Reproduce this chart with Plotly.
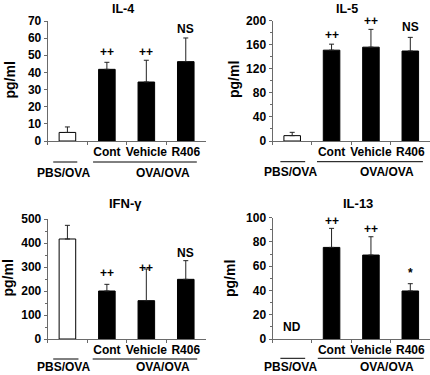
import plotly.graph_objects as go

W, H = 430, 375

# ---------------- data ----------------
categories = ["PBS/OVA", "Cont", "Vehicle", "R406"]
cat_labels = ["", "Cont", "Vehicle", "R406"]
group_labels = ["PBS/OVA", "OVA/OVA"]

il4_mean = [5.0, 41.8, 34.4, 46.3]
il4_err = [3.2, 4.1, 12.7, 13.8]
il4_sig = ["", "++", "++", "NS"]

il5_mean = [8.9, 151.0, 156.0, 149.6]
il5_err = [5.5, 10.0, 29.6, 22.7]
il5_sig = ["", "++", "++", "NS"]

ifn_mean = [416.7, 200.0, 159.7, 248.6]
ifn_err = [56.9, 27.8, 132.0, 77.8]
ifn_sig = ["", "++", "++", "NS"]

il13_mean = [None, 75.5, 69.2, 39.6]
il13_err = [None, 15.7, 15.1, 6.0]
il13_sig = ["", "++", "++", "*"]

titles = ["IL-4", "IL-5", "IFN-γ", "IL-13"]
y_title = "pg/ml"

# ---------------- layout helpers ----------------
def px_x(p):
    return p / W

def px_y(p):
    return 1 - p / H

FONT = "Liberation Sans, Arial, sans-serif"
AXIS_COLOR = "#6a6a6a"

panels = [
    dict(mean=il4_mean, err=il4_err, sig=il4_sig, shifts=[0, 9, 7, 7.5], title=titles[0],
         ymax=70, dtick=10, minor=None, xdom=(47.7, 205.5), ybot=141, ytop=21,
         title_xy=(123, 9), title_size=12.5, ylab_xy=(9.5, 80), line_y=162, group_y=172.5,
         pbs_line=(-0.36, 0.25), ova_line=(0.65, 3.28), pbs_x=-0.1, ova_x=2.41),
    dict(mean=il5_mean, err=il5_err, sig=il5_sig, shifts=[0, 8, 7, 9], title=titles[1],
         ymax=200, dtick=40, minor=20, xdom=(272.5, 430), ybot=141, ytop=20.7,
         title_xy=(346.7, 9), title_size=12.5, ylab_xy=(234, 80), line_y=161.7, group_y=171.5,
         pbs_line=(-0.3, 0.33), ova_line=(0.63, 3.32), pbs_x=-0.05, ova_x=2.42),
    dict(mean=ifn_mean, err=ifn_err, sig=ifn_sig, shifts=[0, 10, -1, 6], title=titles[2],
         ymax=500, dtick=100, minor=50, xdom=(47.7, 205.5), ybot=339, ytop=219,
         title_xy=(125, 203), title_size=13, ylab_xy=(7.5, 278), line_y=359, group_y=367,
         pbs_line=(-0.36, 0.28), ova_line=(0.64, 3.29), pbs_x=-0.1, ova_x=2.41),
    dict(mean=il13_mean, err=il13_err, sig=il13_sig, shifts=[0, 6, 6.5, 9], title=titles[3],
         ymax=100, dtick=20, minor=10, xdom=(272.5, 430), ybot=339, ytop=217.7,
         title_xy=(358, 203), title_size=13, ylab_xy=(230, 278), line_y=358.3, group_y=367,
         pbs_line=(-0.3, 0.33), ova_line=(0.65, 3.34), pbs_x=-0.05, ova_x=2.42),
]

fig = go.Figure()
annotations = []
shapes = []

for i, p in enumerate(panels):
    n = i + 1
    xa = "x" if n == 1 else f"x{n}"
    ya = "y" if n == 1 else f"y{n}"
    colors = ["white", "black", "black", "black"]
    errs = p["err"]
    fig.add_trace(go.Bar(
        x=categories, y=p["mean"], xaxis=xa, yaxis=ya,
        width=0.42,
        marker=dict(color=colors, line=dict(color="black", width=1)),
        error_y=dict(type="data", array=errs, arrayminus=[0] * len(errs), symmetric=False,
                     width=2.5, thickness=1, color="#222222"),
        showlegend=False, hoverinfo="skip",
    ))

    xkey = "xaxis" if n == 1 else f"xaxis{n}"
    ykey = "yaxis" if n == 1 else f"yaxis{n}"
    fig.update_layout(**{
        xkey: dict(
            domain=[px_x(p["xdom"][0]), px_x(p["xdom"][1])], anchor=ya, automargin=False,
            type="category", categoryorder="array", categoryarray=categories,
            range=[-0.5, 3.5], tickmode="array", tickvals=categories, ticktext=cat_labels,
            tickson="boundaries", ticks="outside", ticklen=3, tickcolor=AXIS_COLOR,
            showline=True, linecolor=AXIS_COLOR, linewidth=1, showgrid=False, zeroline=False,
            tickangle=0, tickfont=dict(family=FONT, size=12, color="black", weight="bold"),
            fixedrange=True,
        ),
        ykey: dict(
            domain=[px_y(p["ybot"]), px_y(p["ytop"])], anchor=xa, automargin=False,
            range=[0, p["ymax"]], tickmode="linear", tick0=0, dtick=p["dtick"],
            ticks="outside", ticklen=3, tickcolor=AXIS_COLOR,
            showline=True, linecolor=AXIS_COLOR, linewidth=1, showgrid=False, zeroline=False,
            tickfont=dict(family=FONT, size=12, color="black", weight="bold"),
            minor=(dict(dtick=p["minor"], ticks="outside", ticklen=2, tickcolor=AXIS_COLOR, showgrid=False)
                   if p["minor"] else None),
            fixedrange=True,
        ),
    })

    # significance labels
    for j, s in enumerate(p["sig"]):
        if s and p["mean"][j] is not None:
            annotations.append(dict(
                x=categories[j], y=p["mean"][j] + p["err"][j], xref=xa, yref=ya,
                text=s, showarrow=False, yanchor="bottom", yshift=p["shifts"][j] - 7.5,
                font=dict(family=FONT, size=12, color="black", weight="bold"),
            ))
    if p["mean"][0] is None:
        annotations.append(dict(
            x=categories[0], y=0, xref=xa, yref=ya, text="ND", showarrow=False,
            yanchor="middle", yshift=12,
            font=dict(family=FONT, size=12, color="black", weight="bold"),
        ))

    # title
    annotations.append(dict(
        x=px_x(p["title_xy"][0]), y=px_y(p["title_xy"][1]), xref="paper", yref="paper",
        text=p["title"], showarrow=False, xanchor="center", yanchor="middle",
        font=dict(family=FONT, size=p["title_size"], color="black", weight="bold"),
    ))
    # y label
    annotations.append(dict(
        x=px_x(p["ylab_xy"][0]), y=px_y(p["ylab_xy"][1]), xref="paper", yref="paper",
        text=y_title, showarrow=False, textangle=-90, xanchor="center", yanchor="middle",
        font=dict(family=FONT, size=14, color="black", weight="bold"),
    ))
    # group lines and labels
    for (x0, x1) in (p["pbs_line"], p["ova_line"]):
        shapes.append(dict(type="line", xref=xa, yref="paper", x0=x0, x1=x1,
                           y0=px_y(p["line_y"]), y1=px_y(p["line_y"]),
                           line=dict(color="black", width=1)))
    for gx, gl in ((p["pbs_x"], group_labels[0]), (p["ova_x"], group_labels[1])):
        annotations.append(dict(
            x=gx, y=px_y(p["group_y"]), xref=xa, yref="paper", text=gl, showarrow=False,
            xanchor="center", yanchor="middle",
            font=dict(family=FONT, size=12, color="black", weight="bold"),
        ))

fig.update_layout(
    width=W, height=H, margin=dict(l=0, r=0, t=0, b=0),
    paper_bgcolor="white", plot_bgcolor="white",
    annotations=annotations, shapes=shapes, bargap=0.58,
    font=dict(family=FONT, color="black"),
)

fig.write_html(
    "out.html",
    config={"displayModeBar": False},
    post_script="document.body.style.margin='0';document.body.style.overflow='hidden';",
)
